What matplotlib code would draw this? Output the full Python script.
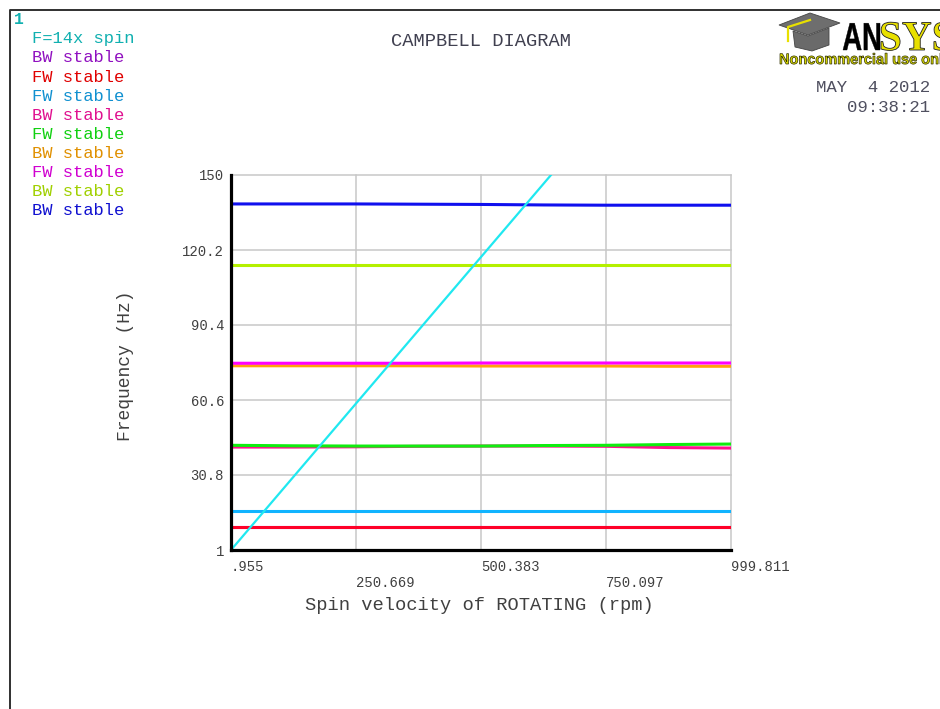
import matplotlib
matplotlib.use('Agg')
import matplotlib.pyplot as plt
from matplotlib.textpath import TextPath
from matplotlib.font_manager import FontProperties
from matplotlib.patches import PathPatch, Polygon
from matplotlib.lines import Line2D
from matplotlib.transforms import Affine2D

MONO = 'Liberation Mono'
W, H = 940, 709

# spin speeds where the modes were solved (rpm)
rpm = [0.955, 125.812, 250.669, 375.526, 500.383, 625.240, 750.097, 874.954, 999.811]

# 14x spin excitation line
spin_rpm = [0.955, 640.2]
spin_freq = [1.0, 150.0]

# whirl frequencies (Hz)
bw_1 = [10.0, 10.0, 10.0, 10.0, 10.0, 10.0, 10.0, 10.0, 10.0]
fw_1 = [10.1, 10.1, 10.1, 10.1, 10.1, 10.1, 10.1, 10.1, 10.1]
fw_2 = [16.5, 16.5, 16.5, 16.5, 16.5, 16.5, 16.5, 16.5, 16.5]
bw_3 = [41.9, 41.9, 42.0, 42.2, 42.3, 42.3, 42.2, 41.7, 41.5]
fw_3 = [42.6, 42.4, 42.3, 42.3, 42.3, 42.5, 42.6, 42.9, 43.1]
bw_4 = [74.2, 74.2, 74.2, 74.2, 74.1, 74.1, 74.1, 74.0, 74.0]
fw_4 = [75.2, 75.2, 75.2, 75.2, 75.3, 75.3, 75.3, 75.3, 75.3]
bw_5 = [114.2, 114.2, 114.2, 114.2, 114.2, 114.2, 114.2, 114.2, 114.2]
bw_6 = [138.5, 138.5, 138.5, 138.4, 138.3, 138.1, 138.0, 138.0, 138.0]

modes = [bw_1, fw_1, fw_2, bw_3, fw_3, bw_4, fw_4, bw_5, bw_6]
mode_labels = ['BW stable', 'FW stable', 'FW stable', 'BW stable', 'FW stable',
               'BW stable', 'FW stable', 'BW stable', 'BW stable']
line_colors = ['#8000ff', '#ff0028', '#10b4ff', '#ff1090', '#10ee10',
               '#ffa010', '#ff00ff', '#b4f000', '#1010ee']
text_colors = ['#9010c0', '#e00000', '#1090d0', '#e0108f', '#10d010',
               '#e09000', '#d000d0', '#a0d000', '#1010d0']

xticks = [0.955, 250.669, 500.383, 750.097, 999.811]
xtick_labels = ['.955', '\n250.669', '500.383', '\n750.097', '999.811']
yticks = [1, 30.8, 60.6, 90.4, 120.2, 150]
ytick_labels = ['1', '30.8', '60.6', '90.4', '120.2', '150']

fig = plt.figure(figsize=(9.4, 7.09), dpi=100)
fig.patch.set_facecolor('white')

# overlay in pixel coordinates for frame and logo
ov = fig.add_axes([0, 0, 1, 1])
ov.set_xlim(0, W)
ov.set_ylim(H, 0)
ov.axis('off')
ov.add_line(Line2D([10, 10, W], [H, 10, 10], color='#303030', lw=1.4))

# graduation cap
ov.add_patch(Polygon([[779, 25], [810, 13], [840, 23], [808, 35]], closed=True,
                     fc='#6e6e6e', ec='#444444', lw=0.6))
ov.add_patch(Polygon([[793, 31], [808, 36], [829, 28], [829, 45], [812, 51], [795, 47]],
                     closed=True, fc='#6a6a6a', ec='#444444', lw=0.6))
ov.add_line(Line2D([810, 788, 788], [20, 27, 41], color='#e8e000', lw=1.6))


def logo_text(s, ref, x, y, width, fam, fc, ec, lw, yscale=None):
    prop = FontProperties(family=fam, weight='bold')
    ext = TextPath((0, 0), ref, size=1, prop=prop).get_extents()
    sx = width / ext.width
    sy = sx if yscale is None else yscale
    tp = TextPath((0, 0), s, size=1, prop=prop)
    tr = Affine2D().translate(-ext.x0, 0).scale(sx, -sy).translate(x, y)
    ov.add_patch(PathPatch(tr.transform_path(tp), fc=fc, ec=ec, lw=lw))


logo_text('AN', 'AN', 843, 50, 37, 'Liberation Sans', 'black', 'black', 0.3, yscale=39)
logo_text('SYS', 'SYS', 881, 50, 72, 'Liberation Serif', '#e8e000', '#202020', 0.6, yscale=42)
logo_text('Noncommercial use only', 'Noncommercial use onl', 780, 64, 162,
          'Liberation Sans', '#d8d800', '#303000', 0.5, yscale=15)

# plot area
ax = fig.add_axes([231 / W, 1 - 550 / H, 500 / W, 375 / H])
ax.set_facecolor('none')
for m, c in zip(modes, line_colors):
    ax.plot(rpm, m, color=c, lw=2.2, solid_capstyle='butt')
ax.plot(spin_rpm, spin_freq, color='#20e8f0', lw=1.6)

ax.set_xlim(xticks[0], xticks[-1])
ax.set_ylim(yticks[0], yticks[-1])
ax.set_xticks(xticks)
ax.set_xticklabels(xtick_labels, ha='left', fontfamily=MONO, fontsize=10, color='#404040')
ax.set_yticks(yticks)
ax.set_yticklabels(ytick_labels, fontfamily=MONO, fontsize=10, color='#404040')
ax.tick_params(length=0)
ax.tick_params(axis='x', pad=7)
ax.tick_params(axis='y', pad=5)
ax.grid(True, color='#c8c8c8', lw=1.1)
ax.set_axisbelow(True)
for gl in ax.get_xgridlines() + ax.get_ygridlines():
    gl.set_clip_on(False)
for s in ['top', 'right']:
    ax.spines[s].set_visible(False)
for s in ['left', 'bottom']:
    ax.spines[s].set_linewidth(2.3)
    ax.spines[s].set_color('black')

# texts
fig.text(481 / W, 1 - 42 / H, 'CAMPBELL DIAGRAM', ha='center', va='center',
         fontfamily=MONO, fontsize=13.5, color='#404050')
fig.text(479 / W, 1 - 605 / H, 'Spin velocity of ROTATING (rpm)', ha='center', va='center',
         fontfamily=MONO, fontsize=13.5, color='#404040')
fig.text(126 / W, 1 - 366 / H, 'Frequency (Hz)', ha='center', va='center', rotation=90,
         fontfamily=MONO, fontsize=13, color='#404040')
fig.text(930 / W, 1 - 88 / H, 'MAY  4 2012', ha='right', va='center',
         fontfamily=MONO, fontsize=12.5, color='#505060')
fig.text(930 / W, 1 - 107 / H, '09:38:21', ha='right', va='center',
         fontfamily=MONO, fontsize=12.5, color='#505060')

fig.text(14 / W, 1 - 19 / H, '1', ha='left', va='center', fontfamily=MONO,
         fontsize=12, fontweight='bold', color='#10b0b0')
fig.text(32 / W, 1 - 39 / H, 'F=14x spin', ha='left', va='center', fontfamily=MONO,
         fontsize=12.3, color='#10b0b0')
for i, (lab, c) in enumerate(zip(mode_labels, text_colors)):
    fig.text(32 / W, 1 - (58 + 19.1 * i) / H, lab, ha='left', va='center',
             fontfamily=MONO, fontsize=12.3, color=c)

fig.savefig('out.png', dpi=100)
